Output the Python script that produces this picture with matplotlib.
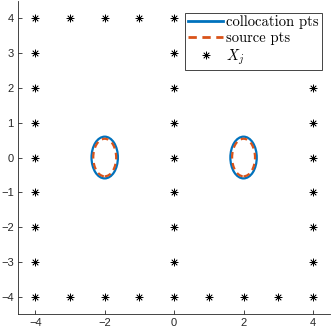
import numpy as np
import matplotlib
matplotlib.use("Agg")
import matplotlib.pyplot as plt
from matplotlib.patches import Ellipse
from matplotlib.lines import Line2D

# centre points X_j (boundary of the square plus the middle column)
xj_x = [-4, -4, -4, -4, -4, -4, -4, -4, -4,
        -3, -2, -1, 0, 1, 2, 3, 4,
        4, 4, 4, 4, 4, 4, 4, 4,
        3, 2, 1, 0, -1, -2, -3,
        0, 0, 0, 0, 0, 0, 0]
xj_y = [-4, -3, -2, -1, 0, 1, 2, 3, 4,
        4, 4, 4, 4, 4, 4, 4, 4,
        3, 2, 1, 0, -1, -2, -3, -4,
        -4, -4, -4, -4, -4, -4, -4,
        -3, -2, -1, 0, 1, 2, 3]

# the two inclusions
centres = [(-2, 0), (2, 0)]
coll_axes = (0.38, 0.60)    # semi-axes, collocation pts
src_axes = (0.33, 0.54)     # semi-axes, source pts

blue = '#0072BD'
orange = '#D95319'
axcol = '#262626'

fig = plt.figure(figsize=(3.32, 3.32), dpi=100)
ax = fig.add_axes([0.054, 0.054, 0.941, 0.943])

for c in centres:
    ax.add_patch(Ellipse(c, 2 * coll_axes[0], 2 * coll_axes[1], fill=False,
                         edgecolor=blue, lw=1.6))
    ax.add_patch(Ellipse(c, 2 * src_axes[0], 2 * src_axes[1], fill=False,
                         edgecolor=orange, lw=1.6, linestyle=(0, (3, 2))))

ax.plot(xj_x, xj_y, linestyle='none', marker=(8, 2, 0), markersize=5.5,
        color='k', markeredgewidth=0.5)

ax.set_xlim(-4.5, 4.5)
ax.set_ylim(-4.5, 4.5)
ax.set_xticks([-4, -2, 0, 2, 4])
ax.set_yticks(np.arange(-4, 5))
for s in ['top', 'right']:
    ax.spines[s].set_visible(False)
for s in ['left', 'bottom']:
    ax.spines[s].set_color(axcol)
    ax.spines[s].set_linewidth(0.6)
ax.tick_params(direction='in', length=3, width=0.6, color=axcol,
               labelsize=8, labelcolor=axcol, pad=3)
for lab in ax.get_xticklabels() + ax.get_yticklabels():
    lab.set_family('Liberation Sans')

plt.rcParams['mathtext.fontset'] = 'cm'
handles = [Line2D([], [], color=blue, lw=2),
           Line2D([], [], color=orange, lw=2, linestyle=(0, (3, 2))),
           Line2D([], [], linestyle='none', marker=(8, 2, 0), markersize=5.5,
                  color='k', markeredgewidth=0.5)]
labels = ['collocation pts', 'source pts', '$X_j$']
leg = ax.legend(handles, labels, loc='upper right',
                bbox_to_anchor=(0.972, 0.963), fancybox=False, framealpha=1,
                edgecolor=axcol, handlelength=2.4, handletextpad=0.2,
                labelspacing=0.15, borderpad=0.2, borderaxespad=0,
                prop={'family': 'cmr10', 'size': 10.5})
leg.get_frame().set_linewidth(0.6)

fig.savefig('out.png', dpi=100)
